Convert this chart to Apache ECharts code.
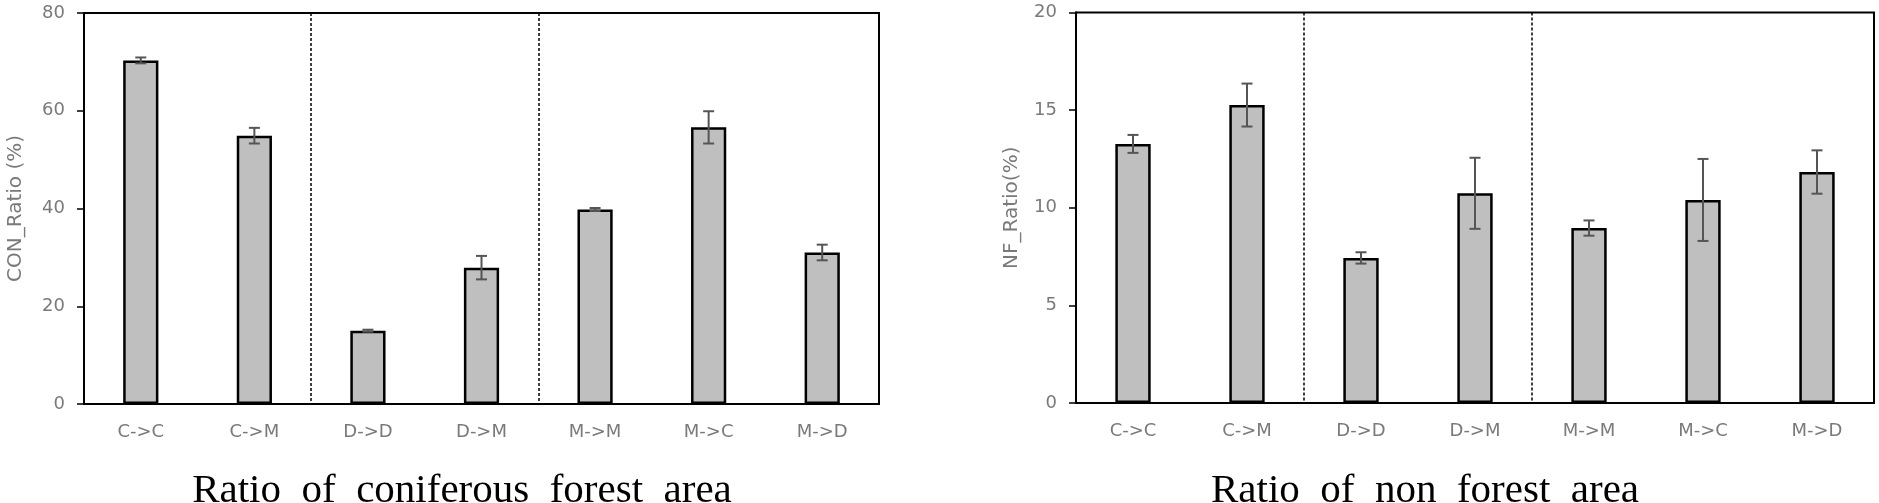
<!DOCTYPE html>
<html>
<head>
<meta charset="utf-8">
<script src="https://cdn.jsdelivr.net/npm/echarts@6/dist/echarts.min.js"></script>
<style>
html,body{margin:0;padding:0;background:#fff;}
#chart{width:1879px;height:503px;}
</style>
</head>
<body>
<div id="chart"></div>
<script>
// ---- data ----
const categories = ['C->C', 'C->M', 'D->D', 'D->M', 'M->M', 'M->C', 'M->D'];
const conValues = [70.3, 54.9, 15.0, 27.9, 39.8, 56.6, 31.0];
const conErrors = [0.6, 1.6, 0.2, 2.4, 0.3, 3.3, 1.6];
const nfValues = [13.27, 15.26, 7.43, 10.74, 8.96, 10.4, 11.83];
const nfErrors = [0.46, 1.1, 0.29, 1.82, 0.39, 2.1, 1.11];
const conTicks = [0, 20, 40, 60, 80];
const nfTicks = [0, 5, 10, 15, 20];
const groupBoundaries = [2, 4];
const conAxisName = 'CON_Ratio (%)';
const nfAxisName = 'NF_Ratio(%)';
const conTitle = 'Ratio  of  coniferous  forest  area';
const nfTitle = 'Ratio  of  non  forest  area';

const chart = echarts.init(document.getElementById('chart'), null, {renderer: 'canvas'});

const labelColor = '#7a7a7a';
const labelFont = 'DejaVu Sans';

function errItem(params, api) {
  const x = api.value(0), v = api.value(1), e = api.value(2);
  const top = api.coord([x, v + e]);
  const bot = api.coord([x, v - e]);
  const hw = 5.5;
  const st = {stroke: '#555', lineWidth: 2};
  return {
    type: 'group',
    children: [
      {type: 'line', shape: {x1: top[0], y1: top[1], x2: bot[0], y2: bot[1]}, style: st},
      {type: 'line', shape: {x1: top[0] - hw, y1: top[1], x2: top[0] + hw, y2: top[1]}, style: st},
      {type: 'line', shape: {x1: bot[0] - hw, y1: bot[1], x2: bot[0] + hw, y2: bot[1]}, style: st}
    ]
  };
}

function xAxisCfg(gi) {
  return {
    type: 'category', gridIndex: gi, data: categories,
    axisLine: {lineStyle: {color: '#000', width: 2}},
    axisTick: {show: false},
    axisLabel: {color: labelColor, fontFamily: labelFont, fontSize: 18, margin: 19},
    splitLine: {
      show: true,
      interval: function (i) { return groupBoundaries.indexOf(i) >= 0; },
      lineStyle: {color: '#000', type: [3, 2], width: 1.5}
    }
  };
}

function yAxisCfg(gi, ticks, name, gap) {
  return {
    type: 'value', gridIndex: gi,
    min: ticks[0], max: ticks[ticks.length - 1], interval: ticks[1] - ticks[0],
    name: name, nameLocation: 'middle', nameGap: gap, nameRotate: 90,
    nameTextStyle: {color: labelColor, fontFamily: labelFont, fontSize: 20},
    axisLine: {show: true, lineStyle: {color: '#000', width: 2}},
    axisTick: {show: true, inside: false, length: 7, lineStyle: {color: '#000', width: 1.5}},
    axisLabel: {color: labelColor, fontFamily: labelFont, fontSize: 18, margin: 19,
      formatter: function (v) { return ticks.indexOf(v) >= 0 ? String(v) : ''; }},
    splitLine: {show: false}
  };
}

function barSeries(gi, vals) {
  return {
    type: 'bar', xAxisIndex: gi, yAxisIndex: gi, data: vals,
    barWidth: '31%',
    itemStyle: {color: '#bfbfbf', borderColor: '#000', borderWidth: 2.5},
    silent: true, animation: false
  };
}

function errSeries(gi, vals, errs) {
  return {
    type: 'custom', xAxisIndex: gi, yAxisIndex: gi,
    data: vals.map(function (v, i) { return [i, v, errs[i]]; }),
    renderItem: errItem, z: 10, silent: true, animation: false
  };
}

chart.setOption({
  animation: false,
  backgroundColor: '#fff',
  grid: [
    {left: 84, right: 1000, top: 13, bottom: 99, show: true, borderColor: '#000', borderWidth: 2, containLabel: false},
    {left: 1076, right: 5, top: 12.5, bottom: 100, show: true, borderColor: '#000', borderWidth: 2, containLabel: false}
  ],
  xAxis: [xAxisCfg(0), xAxisCfg(1)],
  yAxis: [yAxisCfg(0, conTicks, conAxisName, 58), yAxisCfg(1, nfTicks, nfAxisName, 54)],
  series: [
    barSeries(0, conValues), errSeries(0, conValues, conErrors),
    barSeries(1, nfValues), errSeries(1, nfValues, nfErrors)
  ],
  graphic: [
    {type: 'text', position: [462, 491], style: {text: conTitle, x: 0, y: 0, align: 'center', verticalAlign: 'middle',
      fill: '#000', font: '41px "Liberation Serif"'}},
    {type: 'text', position: [1425, 491], style: {text: nfTitle, x: 0, y: 0, align: 'center', verticalAlign: 'middle',
      fill: '#000', font: '41px "Liberation Serif"'}}
  ]
});
</script>
</body>
</html>
